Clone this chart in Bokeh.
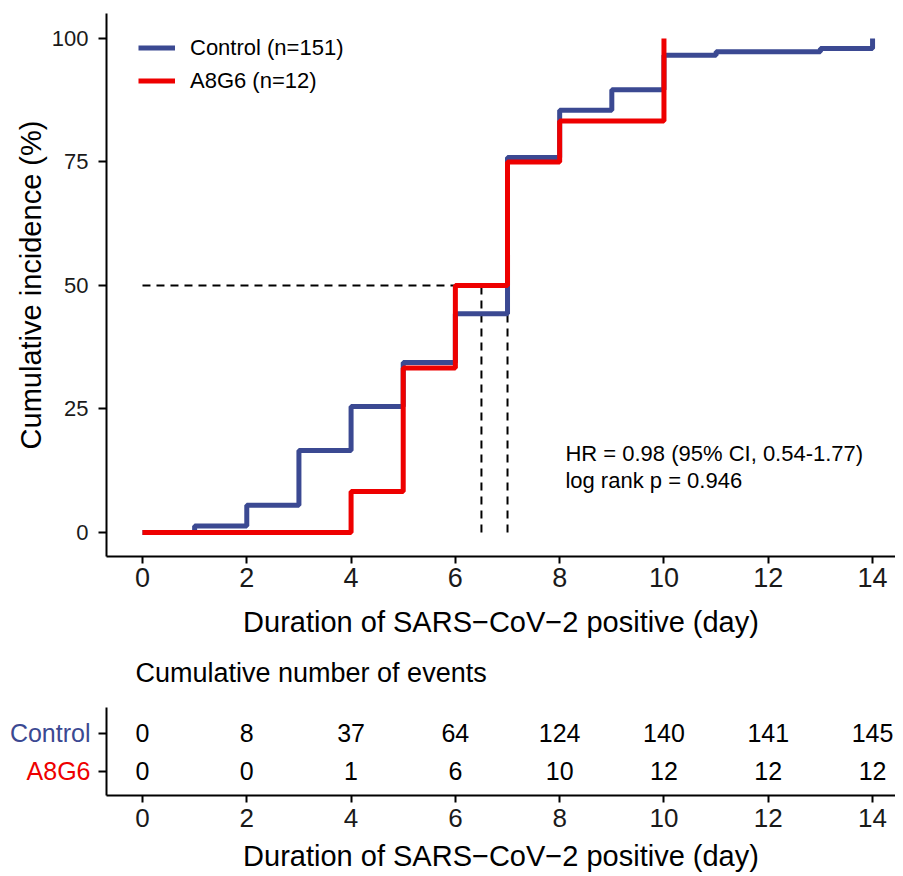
from bokeh.plotting import figure
from bokeh.models import Range1d, FixedTicker, Legend, LegendItem
from bokeh.layouts import column, row
from bokeh.embed import file_html
from bokeh.resources import INLINE
from bokeh.core.properties import value

# ---------------- data ----------------
control_days = [0, 1, 2, 3, 4, 5, 6, 7, 8, 9, 10, 11, 13, 14]
control_pct = [0, 1.3, 5.5, 16.6, 25.5, 34.4, 44.3, 75.9, 85.5, 89.6, 96.6, 97.3, 98.0, 100]
a8g6_days = [0, 4, 5, 6, 7, 8, 10]
a8g6_pct = [0, 8.3, 33.3, 50, 75, 83.3, 100]
median_days = [6.5, 7]
median_level = 50
groups = ["Control", "A8G6"]
legend_labels = ["Control (n=151)", "A8G6 (n=12)"]
table_days = [0, 2, 4, 6, 8, 10, 12, 14]
control_events = [0, 8, 37, 64, 124, 140, 141, 145]
a8g6_events = [0, 0, 1, 6, 10, 12, 12, 12]
x_ticks = [0, 2, 4, 6, 8, 10, 12, 14]
y_ticks = [0, 25, 50, 75, 100]
stat_lines = ["HR = 0.98 (95% CI, 0.54-1.77)", "log rank p = 0.946"]
x_title = "Duration of SARS\u2212CoV\u22122 positive (day)"
y_title = "Cumulative incidence (%)"
table_title = "Cumulative number of events"

BLUE = "#3B4992"
RED = "#EE0000"
FONT = "Liberation Sans"
W = 895
LEFT = 106
LABEL_W = 98


def style_axes(p, xfs, yfs):
    for ax in (p.xaxis[0], p.yaxis[0]):
        ax.axis_line_width = 2
        ax.axis_line_color = "black"
        ax.major_tick_line_width = 2
        ax.major_tick_line_color = "black"
        ax.major_tick_in = 0
        ax.major_tick_out = 7
        ax.minor_tick_line_color = None
        ax.major_label_text_font = FONT
        ax.major_label_text_color = "#1a1a1a"
        ax.axis_label_text_font = FONT
        ax.axis_label_text_font_style = "normal"
        ax.axis_label_text_color = "black"
        ax.axis_label_text_font_size = "29px"
    p.xaxis[0].major_label_text_font_size = xfs
    p.yaxis[0].major_label_text_font_size = yfs
    p.xgrid.visible = False
    p.ygrid.visible = False
    p.outline_line_color = None


def blank(p):
    p.axis.visible = False
    p.xgrid.visible = False
    p.ygrid.visible = False
    p.outline_line_color = None


# ---------------- main plot ----------------
p1 = figure(width=W, height=650, output_backend="svg", toolbar_location=None,
            x_range=Range1d(-0.69, 14.44), y_range=Range1d(-4.86, 105.06),
            min_border_left=LEFT, min_border_right=0, min_border_top=13, min_border_bottom=94)
style_axes(p1, "27px", "22px")
p1.xaxis[0].ticker = FixedTicker(ticks=x_ticks)
p1.yaxis[0].ticker = FixedTicker(ticks=y_ticks)
p1.xaxis[0].axis_label = x_title
p1.yaxis[0].axis_label = y_title
p1.xaxis[0].major_label_standoff = 4
p1.yaxis[0].major_label_standoff = 10
p1.yaxis[0].major_tick_out = 8
p1.xaxis[0].axis_label_standoff = 16
p1.yaxis[0].axis_label_standoff = 2

# median dashed lines
p1.segment(x0=[0], y0=[median_level], x1=[max(median_days)], y1=[median_level],
           line_color="black", line_width=2, line_dash="8 6")
p1.segment(x0=median_days, y0=[0] * len(median_days), x1=median_days,
           y1=[median_level] * len(median_days),
           line_color="black", line_width=2, line_dash="8 6")

r_c = p1.step(control_days, control_pct, mode="after", line_color=BLUE, line_width=5)
r_a = p1.step(a8g6_days, a8g6_pct, mode="after", line_color=RED, line_width=5)

legend = Legend(items=[LegendItem(label=legend_labels[0], renderers=[r_c]),
                       LegendItem(label=legend_labels[1], renderers=[r_a])],
                location=(32, 459), padding=0, margin=0, spacing=0,
                glyph_width=37, glyph_height=33, label_height=33, label_standoff=15,
                label_text_font=FONT, label_text_font_size="22px", label_text_color="black",
                border_line_color=None, background_fill_alpha=0)
p1.add_layout(legend)

p1.text(x=[8.11, 8.11], y=[16.0, 10.5], text=stat_lines, text_font=value(FONT),
        text_font_size="22px", text_align="left", text_baseline="middle", text_color="black")

# ---------------- risk table title strip ----------------
TT_H = 55
tf = figure(width=W, height=TT_H, output_backend="svg", toolbar_location=None,
            x_range=Range1d(LEFT, W), y_range=Range1d(0, TT_H),
            min_border_left=LEFT, min_border_right=0, min_border_top=0, min_border_bottom=0)
blank(tf)
tf.text(x=[135], y=[TT_H - 22], text=[table_title], text_font=value(FONT),
        text_font_size="27px", text_align="left", text_baseline="middle", text_color="black")

# ---------------- risk table ----------------
T_TOP = 2
T_BOT = 81
T_H = 876 - 650 - TT_H
y_rng = (0.36, 2.67)
row_y = {groups[0]: 2, groups[1]: 1}

p2 = figure(width=W - LABEL_W, height=T_H, output_backend="svg", toolbar_location=None,
            x_range=Range1d(-0.69, 14.44), y_range=Range1d(*y_rng),
            min_border_left=LEFT - LABEL_W, min_border_right=0,
            min_border_top=T_TOP, min_border_bottom=T_BOT)
style_axes(p2, "26px", "0px")
p2.xaxis[0].ticker = FixedTicker(ticks=x_ticks)
p2.yaxis[0].ticker = FixedTicker(ticks=[row_y[g] for g in groups])
p2.yaxis[0].major_label_overrides = {1: "", 2: ""}
p2.yaxis[0].major_label_standoff = 0
p2.yaxis[0].major_tick_out = 8
p2.xaxis[0].axis_label = x_title
p2.xaxis[0].major_label_standoff = 6
p2.xaxis[0].axis_label_standoff = 10

p2.text(x=table_days, y=[row_y[groups[0]]] * len(table_days),
        text=[str(v) for v in control_events], text_font=value(FONT), text_font_size="25px",
        text_align="center", text_baseline="middle", text_color="black")
p2.text(x=table_days, y=[row_y[groups[1]]] * len(table_days),
        text=[str(v) for v in a8g6_events], text_font=value(FONT), text_font_size="25px",
        text_align="center", text_baseline="middle", text_color="black")

# group labels panel (left of the table)
lf = figure(width=LABEL_W, height=T_H, output_backend="svg", toolbar_location=None,
            x_range=Range1d(0, LABEL_W), y_range=Range1d(*y_rng),
            min_border_left=0, min_border_right=0, min_border_top=T_TOP, min_border_bottom=T_BOT)
blank(lf)
lf.text(x=[LABEL_W - 8] * len(groups), y=[row_y[g] for g in groups], text=groups,
        text_color=[BLUE, RED], text_font=value(FONT), text_font_size="25px",
        text_align="right", text_baseline="middle")

layout = column(p1, tf, row(lf, p2, spacing=0), spacing=0)
open("out.html", "w").write(file_html(layout, INLINE))
